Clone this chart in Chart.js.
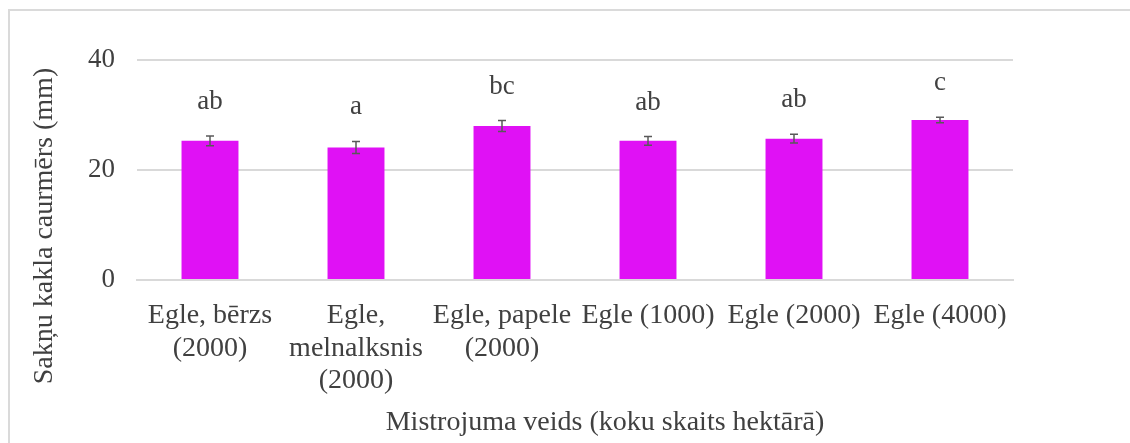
<!DOCTYPE html>
<html>
<head>
<meta charset="utf-8">
<script src="https://cdn.jsdelivr.net/npm/chart.js@4"></script>
<style>
  html, body { margin: 0; padding: 0; background: #fff; }
  #wrap { position: relative; width: 1130px; height: 443px; }
  #frame { position: absolute; left: 8px; top: 9px; width: 1140px; height: 460px;
           border-top: 2px solid #dadada; border-left: 2px solid #dadada; }
  canvas { position: absolute; left: 0; top: 0; }
</style>
</head>
<body>
<div id="wrap">
  <div id="frame"></div>
  <canvas id="chart" width="1130" height="443"></canvas>
</div>
<script>
  // Mistrojuma veidi un vidējās vērtības
  const categories = [
    ['Egle, bērzs', '(2000)'],
    ['Egle,', 'melnalksnis', '(2000)'],
    ['Egle, papele', '(2000)'],
    'Egle (1000)',
    'Egle (2000)',
    'Egle (4000)'
  ];
  const values = [25.3, 24.1, 28.0, 25.3, 25.7, 29.1];
  const errors = [0.9, 1.1, 1.0, 0.8, 0.8, 0.5];
  const letters = ['ab', 'a', 'bc', 'ab', 'ab', 'c'];
  const yTicks = [0, 20, 40];

  const yTitle = 'Sakņu kakla caurmērs (mm)';
  const xTitle = 'Mistrojuma veids (koku skaits hektārā)';

  const fontFamily = '"Liberation Serif", "Times New Roman", serif';
  const textColor = '#404040';

  // kļūdu stabiņi, burti virs stabiņiem un asu nosaukumi
  const extras = {
    id: 'extras',
    afterDatasetsDraw(chart) {
      const { ctx, scales } = chart;
      const meta = chart.getDatasetMeta(0);
      ctx.save();
      ctx.strokeStyle = '#595959';
      ctx.lineWidth = 1.5;
      ctx.fillStyle = textColor;
      ctx.font = '27px ' + fontFamily;
      ctx.textAlign = 'center';
      ctx.textBaseline = 'middle';
      meta.data.forEach((bar, i) => {
        const x = bar.x;
        const yHi = scales.y.getPixelForValue(values[i] + errors[i]);
        const yLo = scales.y.getPixelForValue(values[i] - errors[i]);
        ctx.beginPath();
        ctx.moveTo(x, yHi); ctx.lineTo(x, yLo);
        ctx.moveTo(x - 4, yHi); ctx.lineTo(x + 4, yHi);
        ctx.moveTo(x - 4, yLo); ctx.lineTo(x + 4, yLo);
        ctx.stroke();
        ctx.fillText(letters[i], x, yHi - 34);
      });
      ctx.restore();
    },
    afterDraw(chart) {
      const { ctx } = chart;
      ctx.save();
      ctx.fillStyle = textColor;
      ctx.font = '28px ' + fontFamily;
      ctx.textAlign = 'center';
      ctx.textBaseline = 'middle';
      ctx.fillText(xTitle, 605, 423);
      ctx.translate(45, 226);
      ctx.rotate(-Math.PI / 2);
      ctx.fillText(yTitle, 0, 0);
      ctx.restore();
    }
  };

  const ctx = document.getElementById('chart').getContext('2d');
  const chart = new Chart(ctx, {
    type: 'bar',
    data: {
      labels: categories,
      datasets: [{
        data: values,
        backgroundColor: '#e011f5',
        borderWidth: 0,
        categoryPercentage: 1,
        barPercentage: 0.39
      }]
    },
    options: {
      responsive: false,
      animation: false,
      layout: { padding: { left: 0, right: 117, top: 60, bottom: 0 } },
      plugins: {
        legend: { display: false },
        tooltip: { enabled: false }
      },
      scales: {
        x: {
          grid: { display: false },
          border: { color: '#d9d9d9', width: 2 },
          ticks: {
            color: textColor,
            font: { family: fontFamily, size: 28, lineHeight: 1.15 },
            padding: 12,
            maxRotation: 0,
            autoSkip: false
          },
          afterFit(scale) { scale.height = 163; }
        },
        y: {
          min: 0,
          max: 40,
          afterBuildTicks(scale) { scale.ticks = yTicks.map(v => ({ value: v })); },
          grid: { color: '#d9d9d9', lineWidth: 2, drawTicks: false },
          border: { display: false },
          ticks: {
            color: textColor,
            font: { family: fontFamily, size: 27 },
            padding: 22
          },
          afterFit(scale) { scale.width = 137; }
        }
      }
    },
    plugins: [extras]
  });
</script>
</body>
</html>
